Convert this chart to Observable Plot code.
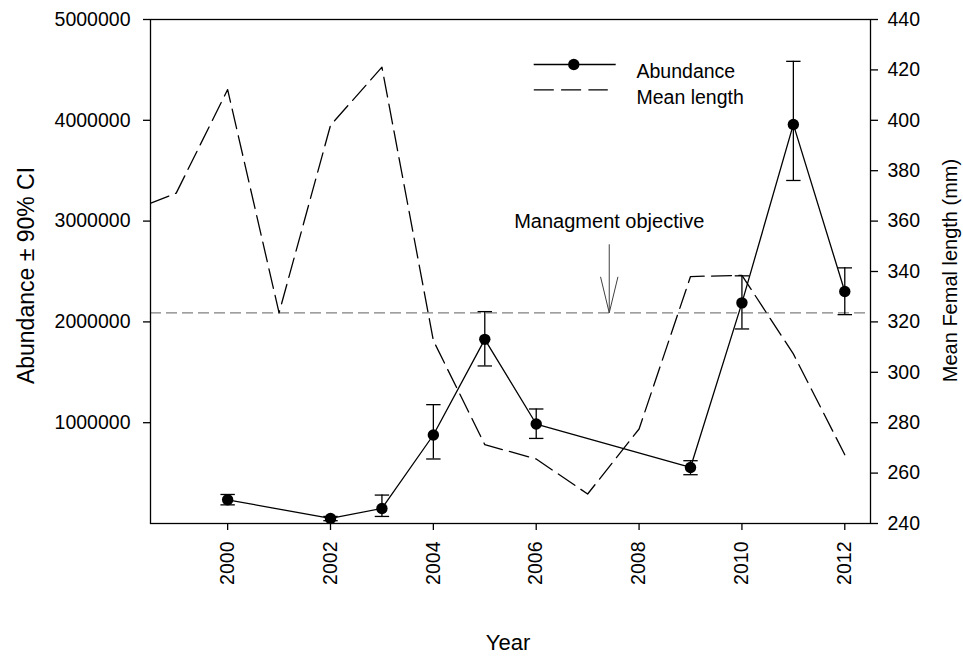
<!DOCTYPE html>
<html>
<head>
<meta charset="utf-8">
<script src="https://cdn.jsdelivr.net/npm/d3@7"></script>
<script src="https://cdn.jsdelivr.net/npm/@observablehq/plot@0.6"></script>
<style>
  body { margin: 0; background: #fff; }
  #chart svg { display: block; }
</style>
</head>
<body>
<div id="chart"></div>
<script>
// Survey abundance estimates with 90% confidence limits
const abundanceYears = [2000, 2002, 2003, 2004, 2005, 2006, 2009, 2010, 2011, 2012];
const abundance      = [235000, 50000, 149000, 878000, 1827000, 987000, 556000, 2189000, 3959000, 2301000];
const abundanceLow   = [185000, 28000, 70000, 640000, 1563000, 844000, 484000, 1930000, 3403000, 2072000];
const abundanceHigh  = [288000, 70000, 282000, 1179000, 2102000, 1136000, 623000, 2457000, 4585000, 2536000];

// Mean female length (mm) by year
const lengthYears = [1998, 1999, 2000, 2001, 2002, 2003, 2004, 2005, 2006, 2007, 2008, 2009, 2010, 2011, 2012];
const meanLength  = [363, 371.1, 412.2, 323.6, 398, 421.1, 312.6, 271.3, 265.6, 251.7, 277.5, 338, 338.5, 307.3, 267.3];

// Management objective and its annotation
const objective = 2090000;
const objectiveLabel = "Managment objective";
const arrowYear = 2007.42;
const arrowTop = 2770000;
const labelLevel = 3000000;

// Axis ticks
const xTicks = [2000, 2002, 2004, 2006, 2008, 2010, 2012];
const leftTicks = [1000000, 2000000, 3000000, 4000000, 5000000];
const rightTicks = [240, 260, 280, 300, 320, 340, 360, 380, 400, 420, 440];
const xDomain = [1998.5, 2012.5];
const leftDomain = [0, 5000000];
const rightDomain = [240, 440];

// Legend entries and titles
const legendLabels = ["Abundance", "Mean length"];
const xTitle = "Year";
const leftTitle = "Abundance \u00B1 90% CI";
const rightTitle = "Mean Femal length (mm)";

const abData = abundanceYears.map((year, i) => ({year, value: abundance[i], lo: abundanceLow[i], hi: abundanceHigh[i]}));
const lenData = lengthYears.map((year, i) => ({year, len: meanLength[i]}));

// Right axis (length) is drawn on the shared y scale through a linear map
const lenToY = v => (v - rightDomain[0]) / (rightDomain[1] - rightDomain[0]) * (leftDomain[1] - leftDomain[0]) + leftDomain[0];
const yToLen = y => (y - leftDomain[0]) / (leftDomain[1] - leftDomain[0]) * (rightDomain[1] - rightDomain[0]) + rightDomain[0];

// Horizontal bar symbol (error-bar caps, legend lines); half-width = r
const hBar = {draw(ctx, size) { const w = Math.sqrt(size / Math.PI); ctx.moveTo(-w, 0); ctx.lineTo(w, 0); }};
// Open arrow head pointing down, tip at the anchor
const vHead = {draw(ctx) { ctx.moveTo(-8.7, -36); ctx.lineTo(0, 0); ctx.lineTo(8.7, -36); }};

const font = "'Liberation Sans', Arial, Helvetica, sans-serif";
const lw = 1.3;
const tickFont = 19.5;

const chart = Plot.plot({
  width: 963,
  height: 659,
  marginLeft: 150,
  marginRight: 93,
  marginTop: 19,
  marginBottom: 136,
  style: {fontFamily: font, fontSize: "19px", color: "black", background: "white"},
  x: {domain: xDomain},
  y: {domain: leftDomain},
  marks: [
    // management objective reference line
    Plot.ruleY([objective], {stroke: "#808080", strokeWidth: lw, strokeDasharray: "11,5"}),

    // mean length (dashed)
    Plot.line(lenData, {x: "year", y: d => lenToY(d.len), stroke: "black", strokeWidth: lw, strokeDasharray: "20,7.3", clip: true}),

    // abundance line, error bars, caps and points
    Plot.line(abData, {x: "year", y: "value", stroke: "black", strokeWidth: lw}),
    Plot.ruleX(abData, {x: "year", y1: "lo", y2: "hi", stroke: "black", strokeWidth: lw}),
    Plot.dot(abData, {x: "year", y: "hi", symbol: hBar, r: 7.2, fill: "none", stroke: "black", strokeWidth: lw}),
    Plot.dot(abData, {x: "year", y: "lo", symbol: hBar, r: 7.2, fill: "none", stroke: "black", strokeWidth: lw}),
    Plot.dot(abData, {x: "year", y: "value", r: 5.7, fill: "black", stroke: "none"}),

    // annotation
    Plot.link([objective], {x1: arrowYear, x2: arrowYear, y1: arrowTop, y2: d => d, stroke: "#404040", strokeWidth: 1}),
    Plot.dot([objective], {x: arrowYear, y: d => d, symbol: vHead, fill: "none", stroke: "#404040", strokeWidth: 1}),
    Plot.text([objectiveLabel], {x: arrowYear, y: labelLevel, text: d => d, fontSize: 20, fill: "black"}),

    // frame and axes
    Plot.frame({stroke: "black", strokeWidth: lw}),
    Plot.axisY({ticks: leftTicks, anchor: "left", tickSize: 7, tickPadding: 13, tickFormat: d => String(d), label: null, fontSize: tickFont, strokeWidth: lw}),
    Plot.axisY({ticks: rightTicks.map(lenToY), anchor: "right", tickSize: 7, tickPadding: 10, tickFormat: d => String(Math.round(yToLen(d))), label: null, fontSize: tickFont, strokeWidth: lw}),
    Plot.axisX({ticks: xTicks, anchor: "bottom", tickSize: 7, tickPadding: 11, tickRotate: -90, tickFormat: "d", label: null, fontSize: tickFont, strokeWidth: lw}),

    // axis titles
    Plot.text([xTitle], {frameAnchor: "bottom", dx: -2.5, dy: 126, text: d => d, fontSize: 22, fill: "black"}),
    Plot.text([leftTitle], {frameAnchor: "left", textAnchor: "middle", dx: -124, dy: 4, rotate: -90, text: d => d, fontSize: 23, fill: "black"}),
    Plot.text([rightTitle], {frameAnchor: "right", textAnchor: "middle", dx: 80, dy: -1, rotate: -90, text: d => d, fontSize: 20, fill: "black"}),

    // legend
    Plot.dot({length: 1}, {frameAnchor: "top-left", dx: 574.2 - 150, dy: 64 - 19, symbol: hBar, r: 41, fill: "none", stroke: "black", strokeWidth: lw}),
    Plot.dot({length: 1}, {frameAnchor: "top-left", dx: 573.3 - 150, dy: 64 - 19, r: 5.7, fill: "black", stroke: "none"}),
    Plot.dot({length: 1}, {frameAnchor: "top-left", dx: 570.3 - 150, dy: 89.3 - 19, symbol: hBar, r: 37, fill: "none", stroke: "black", strokeWidth: lw, strokeDasharray: "20,7.3"}),
    Plot.text([legendLabels[0]], {frameAnchor: "top-left", dx: 636 - 150, dy: 63.8 - 19, text: d => d, textAnchor: "start", fontSize: 19.5, fill: "black"}),
    Plot.text([legendLabels[1]], {frameAnchor: "top-left", dx: 636 - 150, dy: 89.2 - 19, text: d => d, textAnchor: "start", fontSize: 19.5, fill: "black"})
  ]
});

document.getElementById("chart").appendChild(chart);
</script>
</body>
</html>
